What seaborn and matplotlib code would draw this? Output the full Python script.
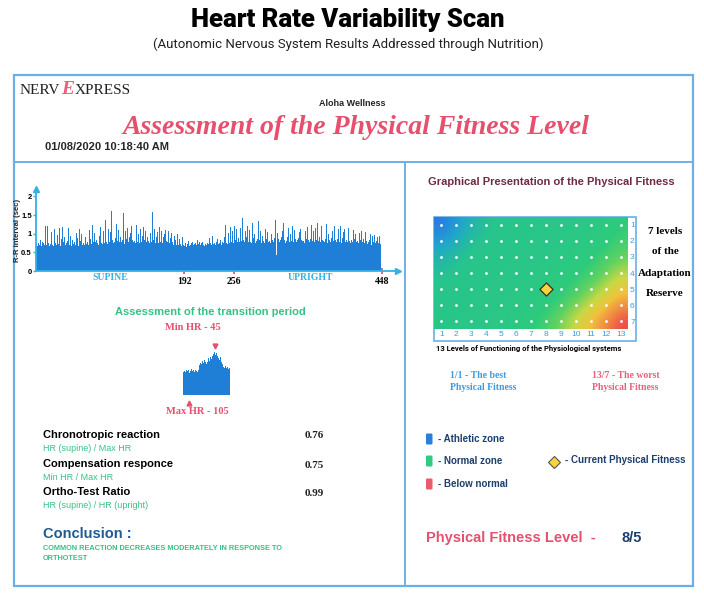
import numpy as np
import pandas as pd
import matplotlib
matplotlib.use("Agg")
import matplotlib.pyplot as plt
from matplotlib import font_manager as fm
from matplotlib.colors import LinearSegmentedColormap
from matplotlib.patches import Rectangle, FancyBboxPatch
import seaborn as sns

# ---------------- data ----------------
rr_interval = [
    1.25,0.72,0.68,0.75,0.95,0.70,0.82,0.66,0.78,1.02,0.74,0.69,1.22,0.80,0.71,1.20,0.76,0.68,0.88,0.73,1.05,0.70,0.79,0.67,1.12,0.75,0.83,0.69,0.97,0.72,1.15,0.74,
    0.68,0.86,1.18,0.71,0.77,0.92,0.69,1.08,0.74,0.80,1.16,0.70,0.76,0.95,0.68,0.84,1.20,0.73,0.79,0.70,1.03,0.75,0.88,0.67,1.14,0.72,0.81,0.98,0.71,1.21,0.76,0.69,
    0.90,0.73,1.25,0.78,0.70,1.10,0.74,0.86,0.72,1.23,0.79,0.71,1.02,0.77,0.84,1.30,0.75,0.70,0.93,0.82,1.19,0.76,0.72,1.08,0.80,0.74,1.36,0.78,0.85,0.73,1.12,0.79,
    0.76,1.05,1.60,0.82,0.74,1.18,0.79,0.88,1.27,0.75,0.81,1.10,0.77,0.92,1.22,0.78,0.84,1.55,0.80,0.73,1.08,0.86,0.76,1.16,0.79,0.90,1.03,0.74,1.20,0.82,0.77,1.11,
    0.80,0.75,1.24,0.88,0.78,1.00,0.74,1.14,0.82,0.79,0.95,1.19,0.76,0.84,1.07,0.78,0.90,1.26,0.81,0.75,1.02,0.87,0.77,1.57,0.83,0.79,1.12,0.76,0.92,1.05,0.80,0.74,
    1.18,0.79,0.85,1.08,0.76,0.90,1.00,0.73,1.10,0.81,0.77,0.95,1.06,0.74,0.88,0.72,1.02,0.78,0.70,0.93,0.75,0.84,0.71,1.00,0.74,0.69,0.86,0.72,0.78,0.68,0.90,0.71,
    0.66,0.70,0.74,0.64,0.72,0.68,0.80,0.66,0.71,0.75,0.67,0.78,0.69,0.73,0.65,0.76,0.70,0.82,0.67,0.72,0.77,0.69,0.74,0.66,0.79,0.71,0.68,0.84,0.72,0.70,0.76,0.73,
    0.69,0.88,0.74,0.71,0.80,0.95,0.72,0.76,1.05,0.70,0.78,0.86,0.73,1.00,0.75,0.82,0.71,1.10,0.77,0.74,0.92,0.79,1.24,0.76,0.72,1.02,0.80,0.75,1.18,0.78,0.85,1.08,
    0.76,1.20,0.82,0.74,1.12,0.79,0.88,1.03,0.77,1.15,0.81,0.75,1.42,0.84,0.78,1.06,0.80,0.92,1.22,0.77,0.86,1.10,0.79,0.74,1.30,0.82,0.88,1.00,0.76,1.16,0.80,0.85,
    1.34,0.78,0.83,1.07,0.76,0.94,1.20,0.80,0.75,1.12,0.82,0.87,1.04,0.78,1.25,0.81,0.76,0.98,0.84,1.14,0.79,0.88,1.38,0.80,0.42,1.02,0.85,0.77,1.18,0.82,0.90,1.08,
    0.79,1.28,0.84,0.76,1.06,0.81,0.92,1.16,0.78,0.86,1.00,0.80,1.22,0.83,0.77,1.10,0.85,0.79,1.30,0.82,0.88,1.04,0.78,1.14,0.84,0.80,1.26,0.81,0.76,1.08,0.87,0.79,
    1.18,0.82,0.77,1.02,0.85,1.24,0.80,0.88,1.06,0.78,1.15,0.83,0.79,1.28,0.81,0.90,1.04,0.77,1.20,0.84,0.80,1.12,0.78,0.86,1.27,0.82,0.76,1.00,0.84,1.16,0.79,0.88,
    1.08,0.80,0.75,1.22,0.83,0.78,1.02,0.86,1.14,0.79,0.82,1.20,0.76,0.88,1.04,0.80,1.12,0.77,0.84,0.98,0.78,1.16,0.81,0.75,1.06,0.83,0.79,1.10,0.76,0.86,1.00,0.78,
    1.13,0.80,0.74,1.02,0.82,0.77,1.08,0.79,0.85,0.96,0.76,1.05,0.80,0.73,0.98,0.78,0.84,1.00,0.75,0.70,0.94,0.77,0.72,0.96,0.74,0.80,0.90,0.71,0.76,0.94,0.72,0.70,
]
beat_index = list(range(len(rr_interval)))
rr_yticks = [0, 0.5, 1, 1.5, 2]
rr_xticks = [192, 256, 448]
phase_labels = ["SUPINE", "UPRIGHT"]

transition = [0.50,0.52,0.49,0.53,0.51,0.54,0.47,0.52,0.55,0.51,0.53,0.50,0.54,0.52,0.50,0.53,
              0.64,0.68,0.66,0.72,0.69,0.74,0.70,0.67,0.75,0.71,0.78,0.73,0.80,0.76,0.84,0.88,
              0.92,0.86,0.90,0.82,0.78,0.74,0.80,0.70,0.66,0.60,0.58,0.62,0.57,0.60,0.56,0.58]
transition_index = list(range(len(transition)))
min_hr_label = "Min HR - 45"
max_hr_label = "Max HR - 105"

metric_names = ["Chronotropic reaction", "Compensation responce", "Ortho-Test Ratio"]
metric_formulas = ["HR (supine) / Max HR", "Min HR / Max HR", "HR (supine) / HR (upright)"]
metric_values = [0.76, 0.75, 0.99]

fitness_grid = [
    [0.00,0.12,0.22,0.28,0.32,0.34,0.35,0.36,0.37,0.38,0.40,0.44,0.50],
    [0.12,0.20,0.27,0.31,0.34,0.35,0.36,0.37,0.38,0.40,0.43,0.48,0.55],
    [0.22,0.27,0.31,0.34,0.35,0.36,0.37,0.38,0.40,0.43,0.48,0.55,0.62],
    [0.28,0.31,0.34,0.35,0.36,0.37,0.38,0.40,0.43,0.48,0.55,0.63,0.72],
    [0.32,0.34,0.35,0.36,0.37,0.38,0.40,0.43,0.48,0.56,0.64,0.73,0.82],
    [0.34,0.35,0.36,0.37,0.38,0.40,0.43,0.48,0.56,0.65,0.74,0.84,0.92],
    [0.35,0.36,0.37,0.38,0.40,0.43,0.48,0.56,0.65,0.75,0.85,0.93,1.00],
]
system_levels = list(range(1, 14))
reserve_levels = list(range(1, 8))
current_system = 8
current_reserve = 5

legend_labels = ["- Athletic zone", "- Normal zone", "- Below normal"]
legend_colors = ["#2a7fdc", "#2fcb82", "#ec5a6e"]

# ---------------- styling ----------------
sns.set_theme(style="white")
names = {f.name for f in fm.fontManager.ttflist}
SANS = "Liberation Sans" if "Liberation Sans" in names else "DejaVu Sans"
SERIF = "Liberation Serif" if "Liberation Serif" in names else "DejaVu Serif"
plt.rcParams["font.family"] = [SANS, "DejaVu Sans"]


def _w(f):
    w = f.weight
    if isinstance(w, str):
        w = fm.weight_dict.get(w, 400)
    return int(w)


def _upright(f):
    return f.style == "normal" and "italic" not in f.fname.lower()


heavy = [f for f in fm.fontManager.ttflist if f.name in ("Roboto", "Lato") and _upright(f)
         and str(f.stretch) == "normal"]
heavy.sort(key=lambda f: (_w(f), f.name == "Roboto"))
if heavy:
    TITLE_FP = fm.FontProperties(fname=heavy[-1].fname)
else:
    TITLE_FP = fm.FontProperties(family=SANS, weight="bold")
reg = [f for f in fm.fontManager.ttflist if f.name == "Roboto" and _upright(f) and _w(f) == 400]
SUB_FP = fm.FontProperties(fname=reg[0].fname) if reg else fm.FontProperties(family=SANS)
boldr = [f for f in fm.fontManager.ttflist if f.name == "Roboto" and _upright(f) and _w(f) == 700]
SMALLB_FP = fm.FontProperties(fname=boldr[0].fname) if boldr else fm.FontProperties(family=SANS, weight="bold")

BORDER = "#6ab0e6"
CYAN = "#33b2e6"
BAR = "#1f7fd6"
PINK = "#e6506e"
GREEN = "#34c286"
NAVY = "#1d3f6e"
BLUE_TXT = "#3b9be0"

W, H = 704, 594
fig = plt.figure(figsize=(W / 100, H / 100), dpi=100)
fig.patch.set_facecolor("white")
renderer = fig.canvas.get_renderer()


def box(l, t, r, b):
    return [l / W, 1 - b / H, (r - l) / W, (b - t) / H]


def fit_width(t, target, max_size=None):
    bb = t.get_window_extent(renderer)
    size = t.get_fontsize() * target / bb.width
    if max_size is not None:
        size = min(size, max_size)
    t.set_fontsize(size)


ax0 = fig.add_axes([0, 0, 1, 1])
ax0.set_xlim(0, W)
ax0.set_ylim(H, 0)
ax0.axis("off")

# frames
ax0.add_patch(Rectangle((14, 75), 679, 511, fill=False, ec=BORDER, lw=1.6))
ax0.plot([14, 693], [162, 162], color=BORDER, lw=1.4)
ax0.plot([405, 405], [162, 586], color=BORDER, lw=1.4)

# titles
t = ax0.text(348, 20, "Heart Rate Variability Scan", ha="center", va="center",
             fontproperties=TITLE_FP, fontsize=18, color="black")
fit_width(t, 335, max_size=18.5)
t = ax0.text(348, 44, "(Autonomic Nervous System Results Addressed through Nutrition)",
             ha="center", va="center", fontproperties=SUB_FP, fontsize=10, color="#222222")
fit_width(t, 390, max_size=10)

# logo
ax0.text(20, 91, "NERV", family=SERIF, fontsize=11, va="center", ha="left", color="#222222")
ax0.text(61, 90, "E", family=SERIF, fontsize=14, fontstyle="italic", fontweight="bold",
         va="center", ha="left", color="#e8607e")
ax0.text(75, 91, "XPRESS", family=SERIF, fontsize=11, va="center", ha="left", color="#222222")

ax0.text(352, 103, "Aloha Wellness", ha="center", va="center", fontweight="bold", fontsize=6.5)
ax0.text(356, 127, "Assessment of the Physical Fitness Level", ha="center", va="center",
         family=SERIF, fontstyle="italic", fontweight="bold", fontsize=20, color=PINK)
ax0.text(45, 147, "01/08/2020 10:18:40 AM", ha="left", va="center", fontweight="bold", fontsize=8)

# ---------------- R-R interval chart ----------------
ax1 = fig.add_axes(box(36, 189, 398, 271))
ax1.patch.set_alpha(0)
sns.barplot(x=beat_index, y=rr_interval, native_scale=True, width=1, color=BAR,
            saturation=1, linewidth=0, errorbar=None, ax=ax1)
ax1.set_xlim(0, 469)
ax1.set_ylim(0, 2.2)
for s in ["top", "right"]:
    ax1.spines[s].set_visible(False)
for s in ["left", "bottom"]:
    ax1.spines[s].set_color(CYAN)
    ax1.spines[s].set_linewidth(1.3)
ax1.plot(1, 0, ">", transform=ax1.transAxes, clip_on=False, color=CYAN, ms=5)
ax1.plot(0, 1, "^", transform=ax1.transAxes, clip_on=False, color=CYAN, ms=5)
ax1.set_yticks(rr_yticks)
ax1.set_yticklabels([f"{v:g}" for v in rr_yticks], fontsize=5.5, fontweight="bold")
ax1.tick_params(axis="y", colors=CYAN, length=2, width=1, pad=1, labelcolor="black", left=True)
ax1.set_xticks(rr_xticks)
ax1.set_xticklabels([str(v) for v in rr_xticks], family=SERIF, fontsize=7, fontweight="bold")
ax1.tick_params(axis="x", colors="#e04a68", length=5, width=1.2, pad=2, labelcolor="black",
                direction="inout", bottom=True)
ax1.set_xlabel("")
ax1.set_ylabel("R-R interval (sec)", fontsize=5.5, fontweight="bold", labelpad=0.5)
ax0.text(110, 278, phase_labels[0], ha="center", va="center", family=SERIF,
         fontweight="bold", fontsize=7, color=CYAN)
ax0.text(310, 278, phase_labels[1], ha="center", va="center", family=SERIF,
         fontweight="bold", fontsize=7, color=CYAN)

# ---------------- transition period ----------------
ax0.text(210, 312, "Assessment of the transition period", ha="center", va="center",
         fontweight="bold", fontsize=8, color=GREEN)
ax0.text(193, 328, min_hr_label, ha="center", va="center", family=SERIF,
         fontweight="bold", fontsize=7.5, color=PINK)
ax0.text(197, 411, max_hr_label, ha="center", va="center", family=SERIF,
         fontweight="bold", fontsize=7.5, color=PINK)
ax2 = fig.add_axes(box(183, 348, 230, 395))
ax2.patch.set_alpha(0)
sns.barplot(x=transition_index, y=transition, native_scale=True, width=1, color=BAR,
            saturation=1, linewidth=0, errorbar=None, ax=ax2)
ax2.set_xlim(-0.5, len(transition) - 0.5)
ax2.set_ylim(0, 1)
ax2.axis("off")
imax = int(np.argmax(transition))
imin = int(np.argmin(transition))
ax2.plot(imax, max(transition) + 0.12, "v", color=PINK, ms=3.5, clip_on=False)
ax2.plot(imin, -0.17, "^", color=PINK, ms=3.5, clip_on=False)

# ---------------- metrics ----------------
name_y = [435, 464, 492]
for name, formula, val, y in zip(metric_names, metric_formulas, metric_values, name_y):
    ax0.text(43, y, name, ha="left", va="center", fontweight="bold", fontsize=8, color="black")
    ax0.text(43, y + 13.5, formula, ha="left", va="center", fontsize=6.5, color=GREEN)
    ax0.text(305, y + 1, f"{val:.2f}", ha="left", va="center", family=SERIF,
             fontweight="bold", fontsize=8, color="#222222")
ax0.text(43, 534, "Conclusion :", ha="left", va="center", fontweight="bold",
         fontsize=10.5, color="#1f5a94")
ax0.text(43, 549, "COMMON REACTION DECREASES MODERATELY IN RESPONSE TO", ha="left",
         va="center", fontweight="bold", fontsize=5.3, color=GREEN)
ax0.text(43, 558, "ORTHOTEST", ha="left", va="center", fontweight="bold", fontsize=5.3, color=GREEN)

# ---------------- fitness matrix ----------------
ax0.text(551, 182, "Graphical Presentation of the Physical Fitness", ha="center", va="center",
         fontweight="bold", fontsize=8, color="#6e2a45")
ax0.add_patch(Rectangle((434, 217), 202, 124, facecolor="white", ec=BORDER, lw=1.2))
cmap = LinearSegmentedColormap.from_list("fit", [
    (0.0, "#2b78e4"), (0.16, "#20a6cc"), (0.30, "#27c48e"), (0.50, "#2ecb7c"),
    (0.62, "#62d260"), (0.74, "#c8d845"), (0.84, "#f0c23c"), (0.93, "#f08a42"), (1.0, "#ee4a4a")])
ax3 = fig.add_axes(box(434, 217, 628, 329))
ax3.imshow(np.array(fitness_grid), cmap=cmap, vmin=0, vmax=1, interpolation="bicubic",
           extent=(0.5, 13.5, 7.5, 0.5), aspect="auto")
cells = pd.DataFrame([(c, r) for r in reserve_levels for c in system_levels], columns=["sys", "res"])
sns.scatterplot(data=cells, x="sys", y="res", color="white", s=4, linewidth=0, ax=ax3)
sns.scatterplot(x=[current_system], y=[current_reserve], marker="D", s=45, color="#f4d63c",
                edgecolor="#333333", linewidth=0.9, ax=ax3, zorder=5)
ax3.set_xlim(0.5, 13.5)
ax3.set_ylim(7.5, 0.5)
ax3.set_xlabel("")
ax3.set_ylabel("")
for s in ax3.spines.values():
    s.set_visible(False)
ax3.set_xticks(system_levels)
ax3.set_xticklabels([str(v) for v in system_levels], fontsize=6, color=BLUE_TXT)
ax3.yaxis.tick_right()
ax3.set_yticks(reserve_levels)
ax3.set_yticklabels([str(v) for v in reserve_levels], fontsize=6, color=BLUE_TXT)
ax3.tick_params(length=0, pad=1.5)

for txt, y in zip(["7 levels", "of the", "Adaptation", "Reserve"], [231, 252, 273, 294]):
    ax0.text(665, y, txt, ha="center", va="center", family=SERIF, fontweight="bold",
             fontsize=8, color="black")
t = ax0.text(436, 349, "13 Levels of Functioning of the Physiological systems", ha="left",
             va="center", fontproperties=SMALLB_FP, fontsize=6, color="black")
fit_width(t, 187, max_size=6.5)

ax0.text(450, 376, "1/1 - The best", ha="left", va="center", family=SERIF, fontweight="bold",
         fontsize=7, color=BLUE_TXT)
ax0.text(450, 387, "Physical Fitness", ha="left", va="center", family=SERIF, fontweight="bold",
         fontsize=7, color=BLUE_TXT)
ax0.text(592, 376, "13/7 - The worst", ha="left", va="center", family=SERIF, fontweight="bold",
         fontsize=7, color="#e8607a")
ax0.text(592, 387, "Physical Fitness", ha="left", va="center", family=SERIF, fontweight="bold",
         fontsize=7, color="#e8607a")

for lab, col, y in zip(legend_labels, legend_colors, [439, 461, 484]):
    ax0.add_patch(FancyBboxPatch((426, y - 5.5), 6.5, 11, boxstyle="round,pad=0,rounding_size=1.2",
                                 fc=col, ec="none"))
    ax0.text(438, y, lab, ha="left", va="center", fontweight="bold", fontsize=7, color=NAVY)
ax0.plot(554, 462, "D", ms=6.5, mfc="#f4d63c", mec="#555555", mew=0.8)
ax0.text(565, 460, "- Current Physical Fitness", ha="left", va="center", fontweight="bold",
         fontsize=7, color=NAVY)

ax0.text(426, 538, "Physical Fitness Level  -", ha="left", va="center", fontweight="bold",
         fontsize=10.5, color=PINK)
ax0.text(622, 538, f"{current_system}/{current_reserve}", ha="left", va="center",
         fontweight="bold", fontsize=10.5, color=NAVY)

fig.savefig("out.png", dpi=100, facecolor="white")
